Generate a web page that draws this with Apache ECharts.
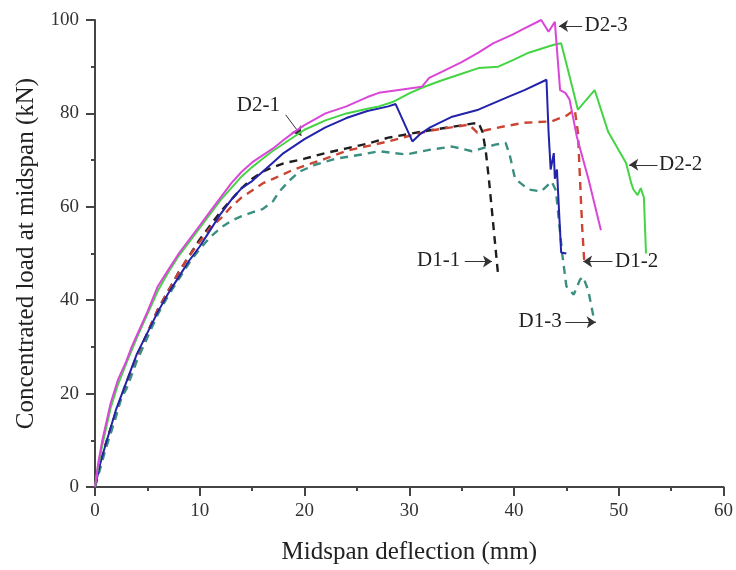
<!DOCTYPE html>
<html>
<head>
<meta charset="utf-8">
<script src="https://cdn.jsdelivr.net/npm/echarts@6/dist/echarts.min.js"></script>
<style>
  html, body { margin: 0; padding: 0; background: #fff; }
  #chart { width: 736px; height: 570px; }
</style>
</head>
<body>
<div id="chart"></div>
<script>
// Load–deflection curves, [deflection (mm), load (kN)]
const d1_1 = [[0,0],[0.5,5],[1,9],[2,16],[3,22],[4,28],[5,33],[6,38],[7,42],[8,46],[9,49.5],[10,53],[11,56],[12,59],[13,61.5],[14,64],[15,66],[16,67.5],[17,68.5],[18,69.3],[20,70.3],[22,71.5],[24,72.5],[26,73.5],[28,74.8],[30,75.6],[32,76.4],[34,77.1],[36,77.8],[36.6,78],[37,76],[37.3,72],[37.6,66],[37.9,59],[38.2,52],[38.5,45]];
const d1_2 = [[0,0],[0.5,5],[1,9],[2,16],[3,22.5],[4,28],[5,33],[6,38],[7,42],[8,46],[9,49.5],[10,52.5],[11,55.5],[12,57.5],[13,60],[14,62],[15,63.5],[16,65],[17,66],[18,67],[19,68],[20,68.8],[22,70.3],[24,72],[26,73],[28,74],[30,75.2],[32,76.3],[34,77],[35.7,77.6],[36.5,75.9],[37.5,76.5],[39,77.2],[41,78],[43.6,78.3],[45,79.5],[45.8,80.8],[46.1,76],[46.3,66],[46.5,56],[46.7,48.5]];
const d1_3 = [[0,0],[0.5,4],[1,8],[2,15],[2.5,19],[3,21],[4,27],[5,32],[6,37],[7,41],[8,44.5],[9,48],[10,51],[11,53.5],[12,55.5],[13,57],[14,58],[15,58.8],[16,59.5],[17,61.2],[17.5,63],[18.5,65.5],[19.5,67.5],[21,69],[23,70.3],[25.5,71.2],[27.1,71.9],[29.7,71.2],[31.9,72.2],[34.1,72.9],[36,71.9],[38.2,73.3],[39.2,73.7],[39.6,71],[40.1,66],[41.4,63.7],[42.6,63.3],[43.6,65.4],[44,63.5],[44.6,50],[45,43],[45.7,41.2],[46.3,44.4],[46.6,45],[47.1,42],[47.7,35.2]];
const d2_1 = [[0,0],[0.5,5],[1,9],[2,16.5],[3,22.5],[4,28.5],[5,33],[6,37.5],[7,41.5],[8,45],[9,48.5],[10,51.5],[11,55],[12,58.5],[13,61.5],[14,64],[15,65.5],[16,67.5],[17,69.5],[18,71.5],[19,73],[20,74.5],[22,77],[24,79],[26,80.5],[28,81.5],[28.7,82],[30.3,74],[31,75.5],[32,77],[34.1,79.3],[36.6,80.8],[39.5,83.6],[41,85],[43.1,87.2],[43.3,76],[43.5,68],[43.8,71.5],[43.9,66],[44.1,68],[44.5,50.2],[45,50]];
const d2_2 = [[0,0],[0.3,4.5],[0.7,9],[1,12],[1.5,17],[2.2,22],[3,26.5],[4,32],[5,37],[6,42],[7,46],[8,49.5],[9,52.5],[10,55.5],[11,58.5],[12,61.5],[13,64],[14,66.5],[15,68.5],[16,70.3],[17,72],[18,73.5],[19,75],[20,76.5],[22,78.5],[24,80],[26,81],[27.1,81.5],[28.5,82.5],[30,84.3],[31.2,85.5],[33,87],[35,88.5],[36.6,89.7],[38.5,90],[40,91.5],[41.4,93],[43.8,94.7],[44.5,95],[45.3,88],[46.1,80.8],[47.7,85],[49,76],[50.7,69.4],[51.2,65],[51.4,63.7],[51.8,62.5],[52.1,64],[52.4,62],[52.6,50]];
const d2_3 = [[0,0],[0.3,5],[0.7,10],[1,13],[1.5,18],[2.2,23],[3,27],[3.5,30],[4,32.5],[5,37.5],[6,43],[7,46.5],[8,50],[9,53],[10,56],[11,59],[12,62],[13,65],[14,67.5],[15,69.5],[16,71],[17,72.5],[18,74.3],[19,76],[20,77.5],[22,80],[24,81.5],[26,83.5],[27.1,84.4],[29,85],[31.2,85.7],[31.9,87.6],[33,88.8],[35,91],[36.6,93],[38,95],[39.8,96.8],[41,98.2],[42.6,100],[43.3,97.5],[43.9,99.6],[44.4,85],[44.9,84.4],[45.3,83],[46,75],[47.1,66],[48.3,55]];

// Specimen names
const names = ['D1-1', 'D1-2', 'D1-3', 'D2-1', 'D2-2', 'D2-3'];

// Callouts: text anchor, arrow tail and arrow tip in data units
const calloutText = [[32.8, 48.5], [51.7, 48.3], [42.5, 35.5], [15.6, 81.8], [55.9, 69.0], [48.8, 98.9]];
const calloutTail = [[35.3, 48.3], [49.4, 48.3], [44.9, 35.3], [18.2, 79.7], [53.7, 69.0], [46.5, 98.7]];
const calloutTip  = [[37.9, 48.3], [46.6, 48.3], [47.8, 35.3], [19.7, 75.2], [51.0, 69.0], [44.3, 98.7]];

const xTicks = { min: 0, max: 60, step: 10 };
const yTicks = { min: 0, max: 100, step: 20 };

const seriesData = [d1_1, d1_2, d1_3, d2_1, d2_2, d2_3];
const colors = ['#1e1e1e', '#cc4433', '#3a8f80', '#2222aa', '#44d444', '#d946d9'];
const dashed = [true, true, true, false, false, false];
const drawOrder = [2, 1, 0, 3, 4, 5];

const serif = '"Liberation Serif", "Times New Roman", serif';
const axisColor = '#444';

const series = drawOrder.map(i => ({
  name: names[i],
  type: 'line',
  data: seriesData[i],
  showSymbol: false,
  symbol: 'none',
  smooth: false,
  silent: true,
  z: 2 + i,
  lineStyle: {
    color: colors[i],
    width: dashed[i] ? 2.4 : 2,
    type: dashed[i] ? [8, 6] : 'solid'
  }
}));

// Callout series: arrow lines plus the specimen labels
series.push({
  type: 'line',
  data: [],
  silent: true,
  z: 20,
  markLine: {
    silent: true,
    symbol: ['none', 'arrow'],
    symbolSize: [0, 9],
    label: { show: false },
    lineStyle: { color: '#333', width: 1, type: 'solid' },
    emphasis: { disabled: true },
    data: names.map((n, i) => [
      { coord: calloutTail[i], symbol: 'none' },
      { coord: calloutTip[i], symbol: 'arrow', symbolSize: 9 }
    ])
  },
  markPoint: {
    silent: true,
    symbol: 'circle',
    symbolSize: 0,
    label: {
      show: true,
      position: 'inside',
      color: '#222',
      fontFamily: serif,
      fontSize: 21,
      formatter: p => p.name
    },
    data: names.map((n, i) => ({ name: n, coord: calloutText[i] }))
  }
});

const chart = echarts.init(document.getElementById('chart'), null, { renderer: 'canvas' });
chart.setOption({
  animation: false,
  backgroundColor: '#ffffff',
  grid: { left: 95, right: 10, top: 20, bottom: 82, containLabel: false },
  xAxis: {
    type: 'value',
    min: xTicks.min, max: xTicks.max, interval: xTicks.step,
    name: 'Midspan deflection (mm)',
    nameLocation: 'middle',
    nameGap: 53,
    nameTextStyle: { fontFamily: serif, fontSize: 25, color: '#222' },
    axisLine: { show: true, onZero: false, lineStyle: { color: axisColor, width: 2 } },
    axisTick: { show: true, inside: false, length: 9, lineStyle: { color: axisColor, width: 2 } },
    minorTick: { show: true, splitNumber: 2, length: 4, lineStyle: { color: axisColor, width: 2 } },
    axisLabel: { fontFamily: serif, fontSize: 19, color: '#333', margin: 15 },
    splitLine: { show: false }
  },
  yAxis: {
    type: 'value',
    min: yTicks.min, max: yTicks.max, interval: yTicks.step,
    name: 'Concentrated load at midspan (kN)',
    nameLocation: 'middle',
    nameGap: 56,
    nameTextStyle: { fontFamily: serif, fontSize: 25, color: '#222' },
    axisLine: { show: true, onZero: false, lineStyle: { color: axisColor, width: 2 } },
    axisTick: { show: true, inside: false, length: 9, lineStyle: { color: axisColor, width: 2 } },
    minorTick: { show: true, splitNumber: 2, length: 4, lineStyle: { color: axisColor, width: 2 } },
    axisLabel: { fontFamily: serif, fontSize: 19, color: '#333', margin: 16 },
    splitLine: { show: false }
  },
  series: series
});
</script>
</body>
</html>
